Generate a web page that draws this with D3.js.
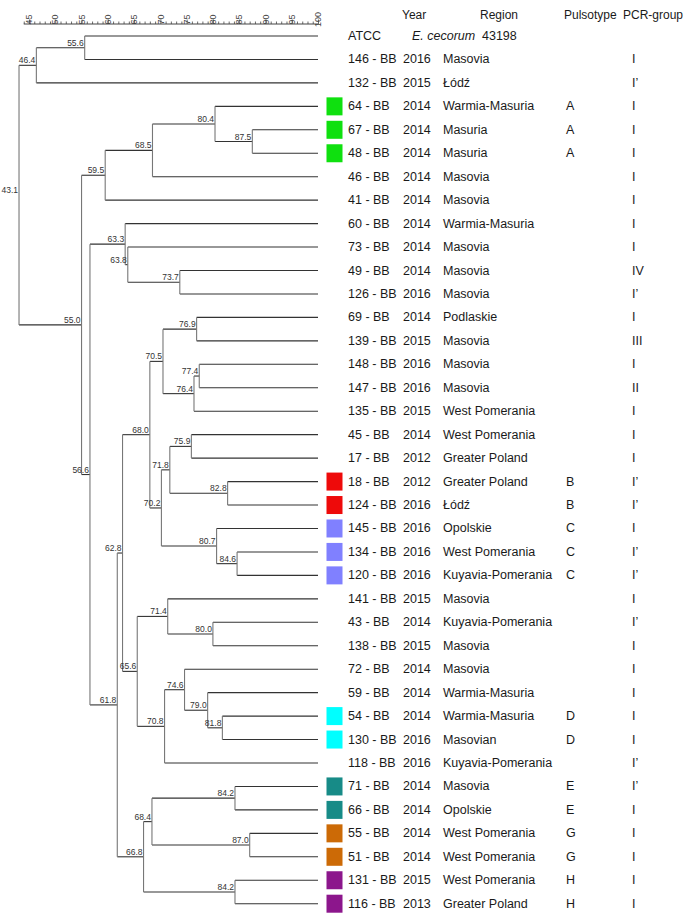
<!DOCTYPE html>
<html>
<head>
<meta charset="utf-8">
<script src="https://cdn.jsdelivr.net/npm/d3@7"></script>
<style>
  html, body { margin: 0; padding: 0; background: #fff; }
  svg { display: block; font-family: "Liberation Sans", Arial, sans-serif; }
</style>
</head>
<body>
<svg id="chart" width="700" height="919"></svg>
<script>
// ---------------- data ----------------
const leafNames = ["ATCC","146 - BB","132 - BB","64 - BB","67 - BB","48 - BB","46 - BB","41 - BB","60 - BB","73 - BB","49 - BB","126 - BB","69 - BB","139 - BB","148 - BB","147 - BB","135 - BB","45 - BB","17 - BB","18 - BB","124 - BB","145 - BB","134 - BB","120 - BB","141 - BB","43 - BB","138 - BB","72 - BB","59 - BB","54 - BB","130 - BB","118 - BB","71 - BB","66 - BB","55 - BB","51 - BB","131 - BB","116 - BB"];
const years = ["","2016","2015","2014","2014","2014","2014","2014","2014","2014","2014","2016","2014","2015","2016","2016","2015","2014","2012","2012","2016","2016","2016","2016","2015","2014","2015","2014","2014","2014","2016","2016","2014","2014","2014","2014","2015","2013"];
const regions = ["","Masovia","Łódź","Warmia-Masuria","Masuria","Masuria","Masovia","Masovia","Warmia-Masuria","Masovia","Masovia","Masovia","Podlaskie","Masovia","Masovia","Masovia","West Pomerania","West Pomerania","Greater Poland","Greater Poland","Łódź","Opolskie","West Pomerania","Kuyavia-Pomerania","Masovia","Kuyavia-Pomerania","Masovia","Masovia","Warmia-Masuria","Warmia-Masuria","Masovian","Kuyavia-Pomerania","Masovia","Opolskie","West Pomerania","West Pomerania","West Pomerania","Greater Poland"];
const pulsotypes = ["","","","A","A","A","","","","","","","","","","","","","","B","B","C","C","C","","","","","","D","D","","E","E","G","G","H","H"];
const pcrGroups = ["","I","I’","I","I","I","I","I","I","I","IV","I’","I","III","I","II","I","I","I","I’","I’","I","I’","I’","I","I’","I","I","I","I","I","I’","I’","I","I","I","I","I"];
const atccSpecies = "E. cecorum";
const atccNumber = "43198";
const headers = ["Year","Region","Pulsotype","PCR-group"];
const pulsotypeKeys = ["A","B","C","D","E","G","H"];
const pulsotypeColors = ["#0fe00f","#ee0a0a","#8080ff","#00ffff","#178b87","#cc6a06","#8c168c"];
const scaleTicks = [45,50,55,60,65,70,75,80,85,90,95,100];

// dendrogram: [similarity, left, right]; strings are leaves
const dendrogram = [43.1,
  [46.4, [55.6, "ATCC", "146 - BB"], "132 - BB"],
  [55.0,
    [59.5, [68.5, [80.4, "64 - BB", [87.5, "67 - BB", "48 - BB"]], "46 - BB"], "41 - BB"],
    [56.6,
      [63.3, "60 - BB", [63.8, "73 - BB", [73.7, "49 - BB", "126 - BB"]]],
      [61.8,
        [62.8,
          [68.0,
            [70.5, [76.9, "69 - BB", "139 - BB"], [76.4, [77.4, "148 - BB", "147 - BB"], "135 - BB"]],
            [70.2, [71.8, [75.9, "45 - BB", "17 - BB"], [82.8, "18 - BB", "124 - BB"]], [80.7, "145 - BB", [84.6, "134 - BB", "120 - BB"]]]
          ],
          [65.6,
            [71.4, "141 - BB", [80.0, "43 - BB", "138 - BB"]],
            [70.8, [74.6, "72 - BB", [79.0, "59 - BB", [81.8, "54 - BB", "130 - BB"]]], "118 - BB"]
          ]
        ],
        [66.8, [68.4, [84.2, "71 - BB", "66 - BB"], [87.0, "55 - BB", "51 - BB"]], [84.2, "131 - BB", "116 - BB"]]
      ]
    ]
  ]
];

// ---------------- layout ----------------
const svg = d3.select("#chart");
svg.append("rect").attr("width", 700).attr("height", 919).attr("fill", "#fff");

const x = d3.scaleLinear().domain([45, 100]).range([29, 318]);
const y = d3.scalePoint().domain(leafNames).range([36, 903.7]);
const colorScale = d3.scaleOrdinal().domain(pulsotypeKeys).range(pulsotypeColors);

const root = d3.hierarchy(dendrogram, d => Array.isArray(d) ? d.slice(1) : null);
root.eachAfter(n => {
  if (n.children) {
    n.sim = n.data[0];
    n.px = x(n.sim);
    n.py = (n.children[0].py + n.children[1].py) / 2;
  } else {
    n.sim = 100;
    n.px = x(100);
    n.py = y(n.data);
  }
});

// ---------------- scale axis ----------------
const axisG = svg.append("g").attr("transform", "translate(0,24)");
const axis = d3.axisTop(x).tickValues(d3.range(44, 101, 1)).tickSize(2.5).tickFormat("");
axisG.call(axis);
axisG.select(".domain").attr("d", `M${x(44)},0H${x(100)}`).attr("stroke", "#444").attr("stroke-width", 1);
axisG.selectAll(".tick line").attr("stroke", "#444").attr("stroke-width", 0.8)
  .attr("y2", d => (d % 5 === 0 ? -4.5 : -2.5));
axisG.selectAll(".tick text").remove();
axisG.selectAll("text.lbl").data(scaleTicks).enter().append("text")
  .attr("class", "lbl")
  .attr("transform", d => `translate(${x(d) + 3.2},-4.5) rotate(-90)`)
  .style("font-size", "9px").style("font-family", "'Liberation Sans', Arial, sans-serif")
  .attr("fill", "#444")
  .text(d => d);

// ---------------- dendrogram ----------------
const g = svg.append("g");
// horizontal branches
g.selectAll("line.h").data(root.descendants().filter(n => n.parent)).enter().append("line")
  .attr("class", "h")
  .attr("x1", n => n.parent.px).attr("x2", n => n.px)
  .attr("y1", n => n.py).attr("y2", n => n.py)
  .attr("stroke", "#333").attr("stroke-width", 1.1);
// vertical connectors
g.selectAll("line.v").data(root.descendants().filter(n => n.children)).enter().append("line")
  .attr("class", "v")
  .attr("x1", n => n.px).attr("x2", n => n.px)
  .attr("y1", n => n.children[0].py).attr("y2", n => n.children[1].py)
  .attr("stroke", "#777").attr("stroke-width", 1.1);
// node similarity labels
g.selectAll("text.sim").data(root.descendants().filter(n => n.children)).enter().append("text")
  .attr("class", "sim")
  .attr("x", n => n.px - 1).attr("y", n => n.py - 2)
  .attr("text-anchor", "end").attr("font-size", 8.5).attr("fill", "#333")
  .text(n => d3.format(".1f")(n.sim));

// ---------------- table ----------------
const fs = 12.5;
const tcol = "#1a1a1a";
const colX = { name: 348, year: 403, region: 443, puls: 566, pcr: 632 };
const headerX = [402, 480, 564, 623];
svg.append("g").selectAll("text").data(headers).enter().append("text")
  .attr("x", (d, i) => headerX[i]).attr("y", 15)
  .attr("dominant-baseline", "central").attr("font-size", 12).attr("fill", tcol)
  .text(d => d);

const rows = svg.append("g").selectAll("g").data(leafNames).enter().append("g")
  .attr("transform", d => `translate(0,${y(d)})`);

rows.filter((d, i) => pulsotypes[i] !== "").append("rect")
  .attr("x", 326.5).attr("y", -9).attr("width", 16).attr("height", 18)
  .attr("fill", d => colorScale(pulsotypes[leafNames.indexOf(d)]));

rows.append("text").attr("x", colX.name).attr("dominant-baseline", "central")
  .attr("font-size", fs).attr("fill", tcol).text(d => d);

rows.each(function(d, i) {
  const r = d3.select(this);
  const t = (xx, txt, italic) => r.append("text").attr("x", xx).attr("dominant-baseline", "central")
    .attr("font-size", fs).attr("fill", tcol).attr("font-style", italic ? "italic" : null).text(txt);
  if (i === 0) {
    t(412, atccSpecies, true);
    t(482, atccNumber, false);
    return;
  }
  t(colX.year, years[i]);
  t(colX.region, regions[i]);
  if (pulsotypes[i]) t(colX.puls, pulsotypes[i]);
  t(colX.pcr, pcrGroups[i]);
});
</script>
</body>
</html>
